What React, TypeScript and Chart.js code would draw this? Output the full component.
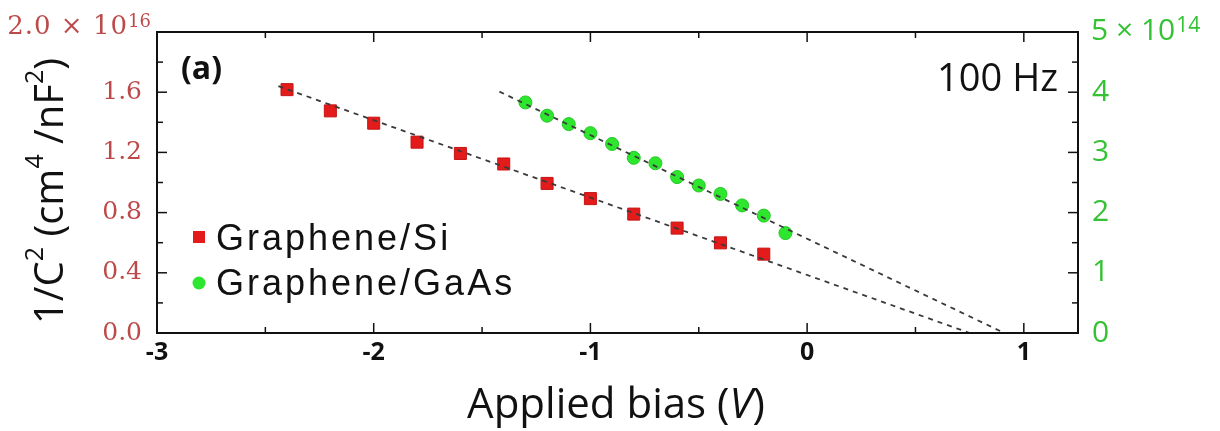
import React, { useEffect, useRef } from "react";
import { Chart, registerables } from "chart.js";

Chart.register(...registerables);

// ---- data ----
const siBias = [-2.4, -2.2, -2.0, -1.8, -1.6, -1.4, -1.2, -1.0, -0.8, -0.6, -0.4, -0.2];
const siInvC2 = [1.617, 1.476, 1.394, 1.268, 1.193, 1.123, 0.994, 0.893, 0.79, 0.697, 0.599, 0.524]; // x 1e16

const gaasBias = [-1.3, -1.2, -1.1, -1.0, -0.9, -0.8, -0.7, -0.6, -0.5, -0.4, -0.3, -0.2, -0.1];
const gaasInvC2 = [3.83, 3.61, 3.47, 3.32, 3.14, 2.91, 2.82, 2.59, 2.45, 2.31, 2.12, 1.95, 1.66]; // x 1e14

const siFitBias = [-2.44, 0.75];
const siFitInvC2 = [1.64, 0];
const gaasFitBias = [-1.42, 0.91];
const gaasFitInvC2 = [4.01, 0];

const xMajorTicks = [-3, -2, -1, 0, 1];
const xMinorTicks = [-2.5, -1.5, -0.5, 0.5];
const leftMajorTicks = [0, 0.4, 0.8, 1.2, 1.6, 2.0];
const leftMinorTicks = [0.2, 0.6, 1.0, 1.4, 1.8];
const rightMajorTicks = [0, 1, 2, 3, 4, 5];
const rightMinorTicks = [0.5, 1.5, 2.5, 3.5, 4.5];

const seriesLabels = ["Graphene/Si", "Graphene/GaAs"];

const RED_TXT = "#bd4a4a";
const GREEN_TXT = "#34c234";

const decorPlugin = {
  id: "decor",
  afterDraw(chart: any) {
    const ctx = chart.ctx;
    const { left, right, top, bottom } = chart.chartArea;
    const xs = chart.scales.x;
    const yl = chart.scales.y;
    const yr = chart.scales.y2;
    ctx.save();
    ctx.strokeStyle = "#111";
    ctx.lineWidth = 1.5;
    const seg = (x1: number, y1: number, x2: number, y2: number) => {
      ctx.beginPath();
      ctx.moveTo(x1, y1);
      ctx.lineTo(x2, y2);
      ctx.stroke();
    };
    const MAJ = 10, MIN = 6;
    xMajorTicks.forEach((v) => {
      const p = xs.getPixelForValue(v);
      seg(p, bottom, p, bottom - MAJ);
      seg(p, top, p, top + MAJ);
    });
    xMinorTicks.forEach((v) => {
      const p = xs.getPixelForValue(v);
      seg(p, bottom, p, bottom - MIN);
      seg(p, top, p, top + MIN);
    });
    leftMajorTicks.forEach((v) => {
      const p = yl.getPixelForValue(v);
      seg(left, p, left + MAJ, p);
    });
    leftMinorTicks.forEach((v) => {
      const p = yl.getPixelForValue(v);
      seg(left, p, left + MIN, p);
    });
    rightMajorTicks.forEach((v) => {
      const p = yr.getPixelForValue(v);
      seg(right, p, right - MAJ, p);
    });
    rightMinorTicks.forEach((v) => {
      const p = yr.getPixelForValue(v);
      seg(right, p, right - MIN, p);
    });
    ctx.lineWidth = 2;
    ctx.strokeRect(left, top, right - left, bottom - top);

    // top-left exponent label
    ctx.fillStyle = RED_TXT;
    ctx.textBaseline = "alphabetic";
    ctx.font = "26px 'DejaVu Serif'";
    ctx.textAlign = "right";
    (ctx as any).letterSpacing = "1px";
    ctx.fillText("2.0 \u00d7 10", 128, 34);
    (ctx as any).letterSpacing = "0px";
    ctx.font = "18px 'DejaVu Serif'";
    ctx.textAlign = "left";
    ctx.fillText("16", 128, 27);

    // top-right exponent label
    ctx.fillStyle = GREEN_TXT;
    ctx.font = "30px 'Open Sans'";
    ctx.textAlign = "left";
    ctx.fillText("5 \u00d7 10", 1091, 40);
    const w5 = ctx.measureText("5 \u00d7 10").width;
    ctx.font = "21px 'Open Sans'";
    ctx.fillText("14", 1091 + w5 + 1, 32);

    // (a) and 100 Hz
    ctx.fillStyle = "#111";
    ctx.font = "bold 32px 'Open Sans'";
    ctx.textAlign = "left";
    ctx.fillText("(a)", 181, 79);
    ctx.font = "38px 'Open Sans'";
    ctx.textAlign = "right";
    ctx.fillText("100 Hz", 1058, 91);

    // legend
    const ds = chart.data.datasets;
    const si = ds[2];
    const ga = ds[3];
    ctx.fillStyle = si.backgroundColor;
    ctx.fillRect(193, 231, 12, 12);
    ctx.fillStyle = ga.backgroundColor;
    ctx.beginPath();
    ctx.arc(199, 283, 6.5, 0, Math.PI * 2);
    ctx.fill();
    ctx.fillStyle = "#111";
    ctx.font = "36px 'Liberation Sans'";
    ctx.textAlign = "left";
    (ctx as any).letterSpacing = "3px";
    ctx.fillText(si.label, 216, 250);
    ctx.fillText(ga.label, 216, 295);
    (ctx as any).letterSpacing = "0px";

    // x title
    const tf = "42px 'Open Sans'";
    const tfi = "italic 42px 'Open Sans'";
    ctx.textAlign = "left";
    const p1 = "Applied bias (";
    const p2 = "V";
    const p3 = ")";
    ctx.font = tf;
    const w1 = ctx.measureText(p1).width;
    ctx.font = tfi;
    const w2 = ctx.measureText(p2).width;
    ctx.font = tf;
    const w3 = ctx.measureText(p3).width;
    const total = w1 + w2 + w3;
    let xx = 616 - total / 2;
    const xb = 418;
    ctx.fillText(p1, xx, xb);
    xx += w1;
    ctx.font = tfi;
    ctx.fillText(p2, xx, xb);
    xx += w2;
    ctx.font = tf;
    ctx.fillText(p3, xx, xb);

    // y title (rotated)
    const parts: [string, boolean][] = [
      ["1/C", false], ["2", true], [" (cm", false], ["4", true], [" /nF", false], ["2", true], [")", false],
    ];
    const mainFont = "40px 'Open Sans'";
    const supFont = "25px 'Open Sans'";
    let tw = 0;
    parts.forEach(([t, s]) => {
      ctx.font = s ? supFont : mainFont;
      tw += ctx.measureText(t).width;
    });
    ctx.save();
    ctx.translate(63, 191);
    ctx.rotate(-Math.PI / 2);
    let cx = -tw / 2;
    parts.forEach(([t, s]) => {
      ctx.font = s ? supFont : mainFont;
      ctx.fillText(t, cx, s ? -20 : 0);
      cx += ctx.measureText(t).width;
    });
    ctx.restore();

    ctx.restore();
  },
};

export default function App() {
  const ref = useRef<HTMLCanvasElement | null>(null);
  useEffect(() => {
    if (!ref.current) return;
    const chart = new Chart(ref.current, {
      type: "scatter",
      data: {
        datasets: [
          {
            label: "fitSi",
            data: siFitBias.map((x, i) => ({ x, y: siFitInvC2[i] })),
            showLine: true,
            borderColor: "#3a3a3a",
            borderWidth: 1.8,
            borderDash: [5, 5],
            pointRadius: 0,
            yAxisID: "y",
            order: 0,
          },
          {
            label: "fitGaAs",
            data: gaasFitBias.map((x, i) => ({ x, y: gaasFitInvC2[i] })),
            showLine: true,
            borderColor: "#3a3a3a",
            borderWidth: 1.8,
            borderDash: [5, 5],
            pointRadius: 0,
            yAxisID: "y2",
            order: 0,
          },
          {
            label: seriesLabels[0],
            data: siBias.map((x, i) => ({ x, y: siInvC2[i] })),
            pointStyle: "rect",
            pointRadius: 8.5,
            backgroundColor: "#e31b1b",
            borderColor: "#c41414",
            borderWidth: 1,
            yAxisID: "y",
            order: 1,
          },
          {
            label: seriesLabels[1],
            data: gaasBias.map((x, i) => ({ x, y: gaasInvC2[i] })),
            pointStyle: "circle",
            pointRadius: 6.5,
            backgroundColor: "#2de62d",
            borderColor: "#22c822",
            borderWidth: 1,
            yAxisID: "y2",
            order: 1,
          },
        ],
      },
      options: {
        responsive: false,
        animation: false,
        layout: { padding: { top: 25, left: 0, right: 0, bottom: 0 } },
        plugins: { legend: { display: false }, tooltip: { enabled: false } },
        scales: {
          x: {
            type: "linear",
            min: -3,
            max: 1.25,
            border: { display: false },
            grid: { display: false, drawTicks: false },
            afterBuildTicks: (s: any) => {
              s.ticks = xMajorTicks.map((v) => ({ value: v }));
            },
            afterFit: (s: any) => {
              s.height = 98;
            },
            ticks: {
              padding: 5,
              color: "#111",
              font: { family: "'Open Sans'", size: 25, weight: "bold" },
              callback: (v: any) => String(v),
              maxRotation: 0,
            },
          },
          y: {
            type: "linear",
            position: "left",
            min: 0,
            max: 2.0,
            border: { display: false },
            grid: { display: false, drawTicks: false },
            afterBuildTicks: (s: any) => {
              s.ticks = leftMajorTicks.map((v) => ({ value: v }));
            },
            afterFit: (s: any) => {
              s.width = 157;
            },
            ticks: {
              padding: 15,
              color: RED_TXT,
              font: { family: "'DejaVu Serif'", size: 25 },
              callback: (v: any) => (Number(v) >= 2 ? "" : Number(v).toFixed(1)),
            },
          },
          y2: {
            type: "linear",
            position: "right",
            min: 0,
            max: 5,
            border: { display: false },
            grid: { display: false, drawTicks: false },
            afterBuildTicks: (s: any) => {
              s.ticks = rightMajorTicks.map((v) => ({ value: v }));
            },
            afterFit: (s: any) => {
              s.width = 142;
            },
            ticks: {
              padding: 14,
              color: GREEN_TXT,
              font: { family: "'Open Sans'", size: 30 },
              callback: (v: any) => (Number(v) >= 5 ? "" : String(v)),
            },
          },
        },
      },
      plugins: [decorPlugin],
    } as any);
    return () => chart.destroy();
  }, []);
  return (
    <div style={{ position: "absolute", left: 0, top: 0, width: 1220, height: 431, background: "#fff" }}>
      <canvas ref={ref} width={1220} height={431} style={{ display: "block" }} />
    </div>
  );
}
